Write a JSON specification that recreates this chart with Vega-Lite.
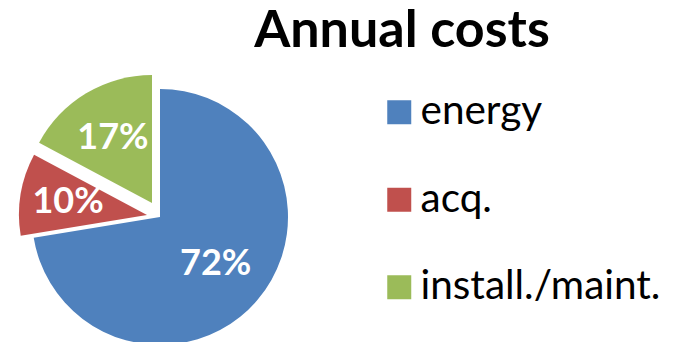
{
  "$schema": "https://vega.github.io/schema/vega-lite/v6.json",
  "width": 320,
  "height": 314,
  "autosize": {"type": "none"},
  "padding": {"left": 0, "top": 60, "right": 353, "bottom": 0},
  "background": "white",
  "config": {"view": {"stroke": null}, "font": "Lato"},
  "title": {"text": "Annual costs", "font": "Lato", "fontSize": 52, "fontWeight": "bold", "color": "black", "anchor": "middle", "frame": "group", "orient": "top", "baseline": "alphabetic", "offset": 13, "dx": 242, "dy": 52},
  "data": {"values": [
    {"cat": "energy", "share": 0.724, "order": 1},
    {"cat": "acq.", "share": 0.104, "order": 2},
    {"cat": "install./maint.", "share": 0.172, "order": 3}
  ]},
  "transform": [
    {"stack": "share", "groupby": [], "sort": [{"field": "order"}], "as": ["s0", "s1"]},
    {"calculate": "(datum.s0 + datum.s1) / 2", "as": "mid"}
  ],
  "layer": [
    {
      "transform": [{"filter": "datum.cat === 'energy'"}],
      "layer": [
        {"mark": {"type": "arc", "outerRadius": 128},
         "encoding": {
           "theta": {"field": "s0", "type": "quantitative", "stack": null, "scale": {"domain": [0, 1]}},
           "theta2": {"field": "s1"},
           "color": {"field": "cat", "type": "nominal", "scale": {"domain": ["energy", "acq.", "install./maint."], "range": ["#4F81BD", "#C0504D", "#9BBB59"]},
             "legend": {"orient": "none", "legendX": 379, "legendY": 32, "title": null, "symbolType": "square", "symbolSize": 576, "symbolStrokeWidth": 0, "labelFont": "Lato", "labelFontSize": 40.5, "labelColor": "black", "labelOffset": 1, "rowPadding": 46.5, "padding": 0, "labelLimit": 400}}
         }},
        {"mark": {"type": "text", "radius": 73, "font": "Lato", "fontSize": 36, "fontWeight": "bold", "color": "white"},
         "encoding": {
           "theta": {"field": "mid", "type": "quantitative", "stack": null, "scale": {"domain": [0, 1]}},
           "text": {"field": "share", "format": ".0%"}
         }}
      ]
    },
    {
      "transform": [{"filter": "datum.cat === 'acq.'"}],
      "layer": [
        {"mark": {"type": "arc", "outerRadius": 128, "xOffset": -13, "yOffset": -2},
         "encoding": {
           "theta": {"field": "s0", "type": "quantitative", "stack": null, "scale": {"domain": [0, 1]}},
           "theta2": {"field": "s1"},
           "color": {"field": "cat", "type": "nominal"}
         }},
        {"mark": {"type": "text", "radius": 80, "font": "Lato", "fontSize": 36, "fontWeight": "bold", "color": "white", "xOffset": -13, "yOffset": -2},
         "encoding": {
           "theta": {"field": "mid", "type": "quantitative", "stack": null, "scale": {"domain": [0, 1]}},
           "text": {"field": "share", "format": ".0%"}
         }}
      ]
    },
    {
      "transform": [{"filter": "datum.cat === 'install./maint.'"}],
      "layer": [
        {"mark": {"type": "arc", "outerRadius": 128, "xOffset": -8, "yOffset": -14},
         "encoding": {
           "theta": {"field": "s0", "type": "quantitative", "stack": null, "scale": {"domain": [0, 1]}},
           "theta2": {"field": "s1"},
           "color": {"field": "cat", "type": "nominal"}
         }},
        {"mark": {"type": "text", "radius": 76, "font": "Lato", "fontSize": 36, "fontWeight": "bold", "color": "white", "xOffset": -8, "yOffset": -14},
         "encoding": {
           "theta": {"field": "mid", "type": "quantitative", "stack": null, "scale": {"domain": [0, 1]}},
           "text": {"field": "share", "format": ".0%"}
         }}
      ]
    }
  ]
}
